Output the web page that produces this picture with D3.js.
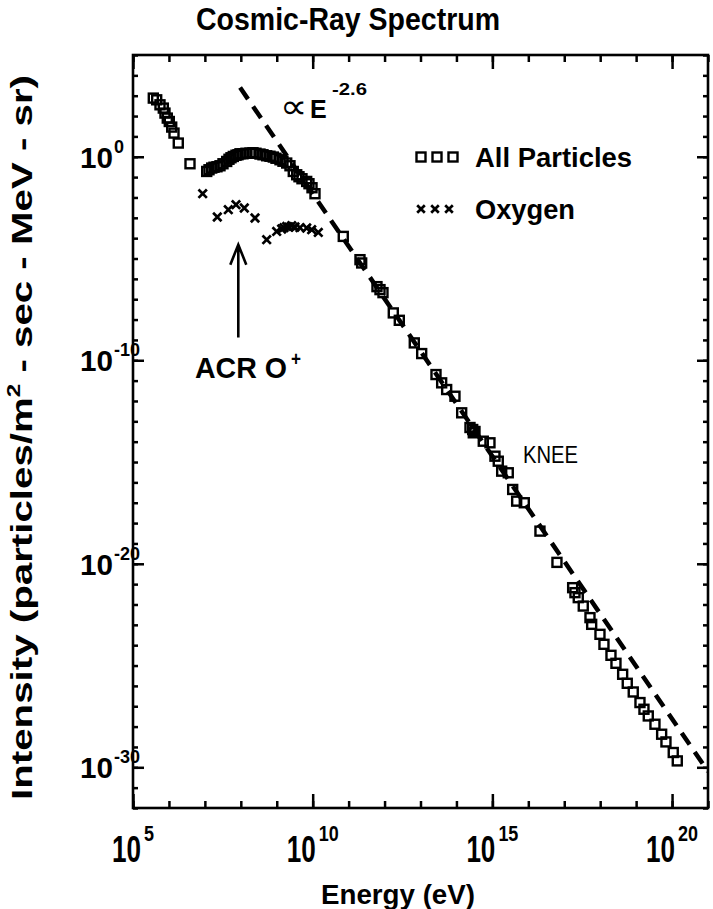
<!DOCTYPE html>
<html>
<head>
<meta charset="utf-8">
<script src="https://cdn.jsdelivr.net/npm/d3@7"></script>
<style>
body { margin: 0; background: #fff; }
text { font-family: "Liberation Sans", Arial, sans-serif; fill: #000; }
</style>
</head>
<body>
<script>
// all values are log10 of energy (eV) and intensity
var allLogE = [5.565, 5.659, 5.751, 5.843, 5.890, 5.954, 6.010, 6.077, 6.141, 6.260,
  6.586, 7.051, 7.115, 7.190, 7.254, 7.337, 7.421, 7.504, 7.607, 7.671, 7.727, 7.791,
  7.866, 7.922, 7.977, 8.061, 8.144, 8.255, 8.339, 8.422, 8.534, 8.617, 8.720, 8.812,
  8.904, 8.979, 9.090, 9.173, 9.277, 9.368, 9.460, 9.555, 9.619, 9.702, 9.833, 9.897,
  9.981, 10.064, 10.851, 11.316, 11.363, 11.789, 11.873, 11.956, 12.243, 12.410,
  12.827, 13.033, 13.431, 13.589, 13.728, 13.959, 14.146, 14.377, 14.452, 14.469,
  14.516, 14.747, 14.933, 15.072, 15.164, 15.259, 15.442, 15.565, 15.676, 15.888,
  16.324, 16.797, 17.234, 17.298, 17.390, 17.529, 17.716, 17.763, 17.994, 18.105,
  18.300, 18.439, 18.625, 18.753, 18.920, 19.107, 19.218, 19.338, 19.524, 19.710,
  19.830, 20.033, 20.145];
var allLogI = [2.882, 2.798, 2.553, 2.391, 2.145, 1.900, 1.733, 1.458, 1.163, 0.673,
  -0.344, -0.722, -0.638, -0.555, -0.515, -0.491, -0.442, -0.344, -0.231, -0.123, -0.049, 0.015,
  0.074, 0.098, 0.147, 0.147, 0.172, 0.182, 0.196, 0.172, 0.133, 0.098, 0.049, 0.025,
  -0.015, -0.074, -0.147, -0.221, -0.309, -0.442, -0.722, -0.884, -0.982, -1.080, -1.213, -1.325,
  -1.522, -1.816, -3.913, -5.057, -5.219, -6.382, -6.529, -6.677, -7.673, -8.036,
  -9.146, -9.671, -10.702, -11.109, -11.438, -11.767, -12.582, -13.304, -13.402, -13.564,
  -13.500, -13.977, -14.055, -14.713, -14.959, -15.449, -15.528, -16.348, -16.922, -17.001,
  -18.395, -19.931, -21.174, -21.419, -21.664, -22.077, -22.646, -22.975, -23.466, -23.957,
  -24.497, -24.890, -25.430, -25.872, -26.299, -26.819, -27.148, -27.477, -27.884, -28.375,
  -28.753, -29.273, -29.686];

var oxyLogE = [6.939, 7.346, 7.652, 7.866, 8.097, 8.395, 8.720, 8.998, 9.137, 9.201,
  9.277, 9.341, 9.416, 9.507, 9.647, 9.833, 9.972, 10.156];
var oxyLogI = [-1.816, -2.960, -2.602, -2.356, -2.518, -3.009, -4.075, -3.667, -3.549, -3.486,
  -3.422, -3.461, -3.387, -3.451, -3.486, -3.500, -3.584, -3.717];

// E^-2.6 guide line
var powerLogE = [7.98, 21];
var powerLogI = [3.4, -30.2];

var xMajor = [5, 10, 15, 20];
var yMajor = [0, -10, -20, -30];

var width = 713;
var height = 909;
var plotL = 133, plotR = 708, plotT = 55, plotB = 808;

var x = d3.scaleLog().domain([1e5, 1e21]).range([plotL, plotR]);
var y = d3.scaleLog().domain([1e-32, 1e5]).range([plotB, plotT]);

function p10(v) { return Math.pow(10, v); }

var svg = d3.select('body').append('svg')
  .attr('width', width)
  .attr('height', height);

svg.append('defs').append('clipPath').attr('id', 'plot')
  .append('rect')
  .attr('x', plotL).attr('y', plotT)
  .attr('width', plotR - plotL).attr('height', plotB - plotT);

// ticks, mirrored on all four sides
var xDecades = d3.range(5, 22).map(p10);
var xBig = xMajor.map(p10);
var yDecades = d3.range(-32, 6).map(p10);
var yBig = yMajor.map(p10);

function tickAxis(axis, pos, vals, size) {
  var g = svg.append('g').attr('transform', pos)
    .call(axis.tickValues(vals).tickSize(size).tickSizeOuter(0).tickFormat(''));
  g.select('.domain').remove();
  g.selectAll('.tick line').attr('stroke', '#000').attr('stroke-width', 2.5);
}

tickAxis(d3.axisBottom(x), 'translate(0,' + plotB + ')', xDecades, -7);
tickAxis(d3.axisBottom(x), 'translate(0,' + plotB + ')', xBig, -14);
tickAxis(d3.axisTop(x), 'translate(0,' + plotT + ')', xDecades, -7);
tickAxis(d3.axisTop(x), 'translate(0,' + plotT + ')', xBig, -14);
tickAxis(d3.axisLeft(y), 'translate(' + plotL + ',0)', yDecades, -5);
tickAxis(d3.axisLeft(y), 'translate(' + plotL + ',0)', yBig, -11);
tickAxis(d3.axisRight(y), 'translate(' + plotR + ',0)', yDecades, -5);
tickAxis(d3.axisRight(y), 'translate(' + plotR + ',0)', yBig, -11);

svg.append('rect')
  .attr('x', plotL).attr('y', plotT)
  .attr('width', plotR - plotL).attr('height', plotB - plotT)
  .attr('fill', 'none')
  .attr('stroke', '#000')
  .attr('stroke-width', 2.6);

// x tick labels
xMajor.forEach(function(p) {
  var s = String(p);
  var supW = 10 * s.length;
  var total = 29 + 3 + supW;
  var x0 = x(p10(p)) - total / 2;
  svg.append('text')
    .attr('x', x0).attr('y', plotB + 54)
    .attr('font-size', 37).attr('font-weight', 'bold')
    .attr('textLength', 29).attr('lengthAdjust', 'spacingAndGlyphs')
    .text('10');
  svg.append('text')
    .attr('x', x0 + 32).attr('y', plotB + 33)
    .attr('font-size', 22).attr('font-weight', 'bold')
    .attr('textLength', supW).attr('lengthAdjust', 'spacingAndGlyphs')
    .text(s);
});

// y tick labels
yMajor.forEach(function(p) {
  var yy = y(p10(p));
  svg.append('text')
    .attr('x', 80).attr('y', yy + 11)
    .attr('font-size', 30).attr('font-weight', 'bold')
    .attr('textLength', 33).attr('lengthAdjust', 'spacingAndGlyphs')
    .text('10');
  svg.append('text')
    .attr('x', 114).attr('y', yy - 4)
    .attr('font-size', 18).attr('font-weight', 'bold')
    .text(String(p));
});

// titles
svg.append('text')
  .attr('x', 196).attr('y', 30)
  .attr('font-size', 32).attr('font-weight', 'bold')
  .attr('textLength', 304).attr('lengthAdjust', 'spacingAndGlyphs')
  .text('Cosmic-Ray Spectrum');

svg.append('text')
  .attr('x', 321).attr('y', 904)
  .attr('font-size', 27).attr('font-weight', 'bold')
  .attr('textLength', 154).attr('lengthAdjust', 'spacingAndGlyphs')
  .text('Energy (eV)');

var yTitle = svg.append('text')
  .attr('transform', 'translate(32,800) rotate(-90)')
  .attr('font-size', 30).attr('font-weight', 'bold');
yTitle.append('tspan').text('Intensity (particles/m');
yTitle.append('tspan').attr('font-size', 18).attr('dy', -12).text('2');
yTitle.append('tspan').attr('dy', 12).text(' - sec - MeV - sr)');
yTitle.attr('textLength', 725).attr('lengthAdjust', 'spacingAndGlyphs');

// guide line
var plot = svg.append('g').attr('clip-path', 'url(#plot)');
plot.append('line')
  .attr('x1', x(p10(powerLogE[0]))).attr('y1', y(p10(powerLogI[0])))
  .attr('x2', x(p10(powerLogE[1]))).attr('y2', y(p10(powerLogI[1])))
  .attr('stroke', '#000')
  .attr('stroke-width', 4.5)
  .attr('stroke-dasharray', '14,9');

// data
plot.selectAll('.sq').data(allLogE).enter().append('rect')
  .attr('class', 'sq')
  .attr('x', function(d) { return x(p10(d)) - 4.5; })
  .attr('y', function(d, i) { return y(p10(allLogI[i])) - 4.5; })
  .attr('width', 9).attr('height', 9)
  .attr('fill', 'none')
  .attr('stroke', '#000')
  .attr('stroke-width', 2.4);

var cross = 'M-4.2,-4.2L4.2,4.2M-4.2,4.2L4.2,-4.2';
plot.selectAll('.ox').data(oxyLogE).enter().append('path')
  .attr('class', 'ox')
  .attr('transform', function(d, i) {
    return 'translate(' + x(p10(d)) + ',' + y(p10(oxyLogI[i])) + ')';
  })
  .attr('d', cross)
  .attr('fill', 'none')
  .attr('stroke', '#000')
  .attr('stroke-width', 2.7);

// legend
[421, 437, 453].forEach(function(cx) {
  svg.append('rect')
    .attr('x', cx - 4.5).attr('y', 152.5).attr('width', 9).attr('height', 9)
    .attr('fill', 'none').attr('stroke', '#000').attr('stroke-width', 2.4);
});
[421, 435, 449].forEach(function(cx) {
  svg.append('path')
    .attr('transform', 'translate(' + cx + ',209)')
    .attr('d', 'M-3.8,-3.8L3.8,3.8M-3.8,3.8L3.8,-3.8')
    .attr('fill', 'none').attr('stroke', '#000').attr('stroke-width', 2.7);
});
svg.append('text')
  .attr('x', 475).attr('y', 167)
  .attr('font-size', 27).attr('font-weight', 'bold')
  .attr('textLength', 157).attr('lengthAdjust', 'spacingAndGlyphs')
  .text('All Particles');
svg.append('text')
  .attr('x', 475).attr('y', 219)
  .attr('font-size', 27).attr('font-weight', 'bold')
  .attr('textLength', 100).attr('lengthAdjust', 'spacingAndGlyphs')
  .text('Oxygen');

// annotations
svg.append('text')
  .attr('x', 280).attr('y', 118)
  .attr('font-family', 'DejaVu Sans')
  .attr('font-size', 34)
  .attr('textLength', 27).attr('lengthAdjust', 'spacingAndGlyphs')
  .text('\u221D');
svg.append('text')
  .attr('x', 310).attr('y', 117.5)
  .attr('font-size', 25).attr('font-weight', 'bold')
  .text('E');
svg.append('text')
  .attr('x', 332).attr('y', 95)
  .attr('font-size', 17).attr('font-weight', 'bold')
  .attr('textLength', 35).attr('lengthAdjust', 'spacingAndGlyphs')
  .text('-2.6');

var arrowE = p10(7.93);
var ax = x(arrowE);
var ay0 = y(p10(-8.886));
var ay1 = y(p10(-4.32));
svg.append('path')
  .attr('d', 'M' + ax + ',' + ay0 + 'L' + ax + ',' + ay1 +
    'M' + (ax - 8) + ',' + (ay1 + 20) + 'L' + ax + ',' + ay1 + 'L' + (ax + 8) + ',' + (ay1 + 20))
  .attr('fill', 'none')
  .attr('stroke', '#000')
  .attr('stroke-width', 2.6);

svg.append('text')
  .attr('x', 195).attr('y', 378)
  .attr('font-size', 30).attr('font-weight', 'bold')
  .attr('textLength', 92).attr('lengthAdjust', 'spacingAndGlyphs')
  .text('ACR O');
svg.append('text')
  .attr('x', 291).attr('y', 366)
  .attr('font-size', 20).attr('font-weight', 'bold')
  .attr('textLength', 10).attr('lengthAdjust', 'spacingAndGlyphs')
  .text('+');

svg.append('text')
  .attr('x', 523).attr('y', 463)
  .attr('font-family', 'DejaVu Sans')
  .attr('font-size', 23)
  .attr('textLength', 55).attr('lengthAdjust', 'spacingAndGlyphs')
  .text('KNEE');
</script>
</body>
</html>
